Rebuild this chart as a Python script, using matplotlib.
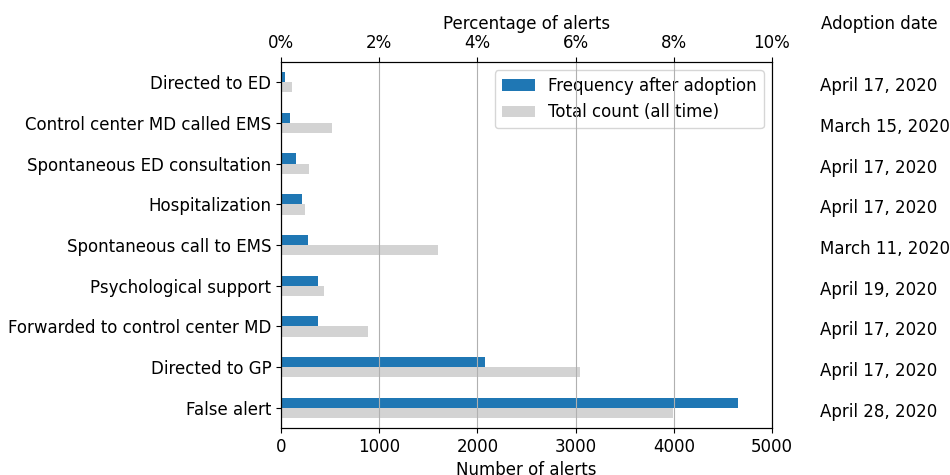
import matplotlib.pyplot as plt
import matplotlib.transforms as mtransforms
import numpy as np
from matplotlib.ticker import PercentFormatter

# Categories, top to bottom
categories = [
    'Directed to ED', 'Control center MD called EMS', 'Spontaneous ED consultation',
    'Hospitalization', 'Spontaneous call to EMS', 'Psychological support',
    'Forwarded to control center MD', 'Directed to GP', 'False alert'
]
freq_after = [41, 95, 153, 214, 272, 373, 373, 2077, 4654]
total_count = [112, 516, 285, 241, 1602, 441, 889, 3042, 3989]
adoption_dates = [
    'April 17, 2020', 'March 15, 2020', 'April 17, 2020', 'April 17, 2020',
    'March 11, 2020', 'April 19, 2020', 'April 17, 2020', 'April 17, 2020',
    'April 28, 2020'
]
total_alerts = 50000  # 5000 alerts == 10%

plt.rcParams['font.size'] = 12

fig = plt.figure(figsize=(9.5, 4.75), dpi=100)
ax = fig.add_axes([0.2958, 0.0989, 0.5168, 0.7706])

y = np.arange(len(categories))[::-1]
bar_h = 0.25
ax.barh(y, freq_after, height=bar_h, align='edge', color='#1f77b4', label='Frequency after adoption')
ax.barh(y - bar_h, total_count, height=bar_h, align='edge', color='lightgray', label='Total count (all time)')

ax.set_yticks(y)
ax.set_yticklabels(categories)
ax.set_ylim(-0.5, 8.5)
ax.set_xlim(0, 5000)
ax.set_xticks([0, 1000, 2000, 3000, 4000, 5000])
ax.set_xlabel('Number of alerts', labelpad=4)
ax.legend(loc='upper right')

# Top axis with percentages (grid drawn from here)
ax2 = ax.twiny()
ax2.set_xlim(0, 5000 / total_alerts * 100)
ax2.set_xticks([0, 2, 4, 6, 8, 10])
ax2.xaxis.set_major_formatter(PercentFormatter(decimals=0))
ax2.set_xlabel('Percentage of alerts')
ax2.grid(axis='x', color='#b0b0b0', linewidth=0.8)

# Adoption dates on the right, nudged down a little like the original
date_trans = ax.get_yaxis_transform() + mtransforms.ScaledTranslation(0, -4 / 100, fig.dpi_scale_trans)
for yi, d in zip(y, adoption_dates):
    ax.text(1.098, yi, d, transform=date_trans, ha='left', va='center')
fig.text(821 / 950, 1 - 24 / 475, 'Adoption date', ha='left', va='center')

fig.savefig('out.png', dpi=100)
